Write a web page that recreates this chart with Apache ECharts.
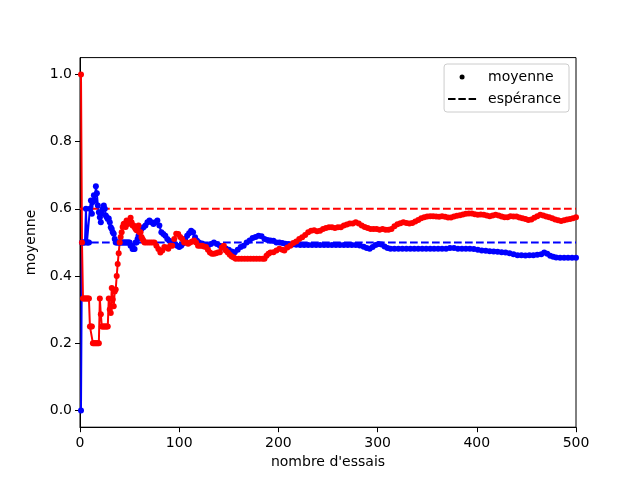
<!DOCTYPE html>
<html>
<head>
<meta charset="utf-8">
<script src="https://cdn.jsdelivr.net/npm/echarts@6/dist/echarts.min.js"></script>
<style>
  html, body { margin: 0; padding: 0; background: #fff; }
  #main { width: 640px; height: 480px; }
</style>
</head>
<body>
<div id="main"></div>
<script>
// valeurs : [nombre d'essais, moyenne]
const blueMean = [
  [1, 0.0], [2, 0.5], [3, 0.5], [4, 0.5], [5, 0.5], [6, 0.6], [7, 0.5], [8, 0.5], [9, 0.5], [10, 0.6],
  [11, 0.625], [12, 0.585], [13, 0.62], [14, 0.64], [15, 0.625], [16, 0.667], [17, 0.646], [18, 0.61], [19, 0.59], [20, 0.575],
  [21, 0.56], [22, 0.586], [23, 0.6], [24, 0.61], [25, 0.6], [26, 0.58], [27, 0.575], [28, 0.57], [29, 0.571], [30, 0.56],
  [31, 0.545], [32, 0.54], [33, 0.53], [34, 0.526], [35, 0.51], [36, 0.5], [37, 0.5], [38, 0.5], [39, 0.5], [40, 0.5],
  [41, 0.5], [42, 0.5], [43, 0.5], [44, 0.5], [45, 0.5], [46, 0.5], [47, 0.5], [48, 0.5], [49, 0.5], [50, 0.5],
  [51, 0.49], [52, 0.49], [53, 0.48], [54, 0.48], [55, 0.48], [56, 0.5], [57, 0.5], [58, 0.51], [59, 0.52], [60, 0.53],
  [62, 0.54], [64, 0.545], [66, 0.55], [68, 0.56], [70, 0.565], [72, 0.56], [74, 0.555], [76, 0.56], [78, 0.565], [80, 0.55],
  [82, 0.53], [84, 0.525], [86, 0.52], [88, 0.51], [90, 0.505], [92, 0.5], [94, 0.5], [96, 0.495], [98, 0.49], [100, 0.486],
  [102, 0.49], [104, 0.497], [106, 0.51], [108, 0.52], [110, 0.527], [112, 0.535], [114, 0.53], [116, 0.515], [118, 0.505], [120, 0.5],
  [123, 0.497], [126, 0.49], [129, 0.49], [132, 0.495], [135, 0.5], [138, 0.495], [141, 0.49], [144, 0.485], [147, 0.482], [150, 0.478],
  [153, 0.473], [156, 0.471], [159, 0.478], [162, 0.486], [165, 0.49], [168, 0.5], [171, 0.506], [174, 0.513], [177, 0.516], [180, 0.52],
  [183, 0.518], [186, 0.51], [189, 0.507], [192, 0.506], [195, 0.505], [198, 0.5], [201, 0.5], [204, 0.498], [207, 0.496], [210, 0.495],
  [214, 0.494], [218, 0.493], [222, 0.492], [226, 0.492], [230, 0.492], [234, 0.492], [238, 0.492], [242, 0.492], [246, 0.492], [250, 0.492],
  [254, 0.492], [258, 0.492], [262, 0.492], [266, 0.492], [270, 0.492], [274, 0.492], [278, 0.492], [282, 0.491], [286, 0.487], [289, 0.483],
  [292, 0.481], [295, 0.486], [298, 0.492], [301, 0.495], [304, 0.494], [307, 0.488], [310, 0.483], [313, 0.481], [317, 0.481], [321, 0.481],
  [325, 0.481], [329, 0.481], [333, 0.481], [337, 0.481], [341, 0.481], [345, 0.481], [349, 0.481], [353, 0.481], [357, 0.481], [361, 0.481],
  [365, 0.481], [369, 0.481], [373, 0.483], [377, 0.483], [381, 0.481], [385, 0.481], [389, 0.481], [393, 0.481], [397, 0.48], [401, 0.478],
  [405, 0.476], [409, 0.475], [413, 0.474], [417, 0.473], [421, 0.472], [425, 0.471], [429, 0.47], [433, 0.468], [437, 0.465], [441, 0.462],
  [445, 0.462], [449, 0.461], [453, 0.462], [457, 0.462], [461, 0.463], [465, 0.465], [468, 0.47], [471, 0.466], [474, 0.46], [477, 0.457],
  [480, 0.455], [484, 0.454], [488, 0.454], [492, 0.454], [496, 0.454], [500, 0.454]
]

const redMean = [
  [1, 1.0], [2, 0.5], [3, 0.333], [4, 0.333], [5, 0.333], [6, 0.333], [7, 0.333], [8, 0.333], [9, 0.333], [10, 0.25],
  [11, 0.25], [12, 0.25], [13, 0.2], [14, 0.2], [15, 0.2], [16, 0.2], [17, 0.2], [18, 0.2], [19, 0.2], [20, 0.333],
  [21, 0.286], [22, 0.25], [23, 0.25], [24, 0.25], [25, 0.25], [26, 0.25], [27, 0.25], [28, 0.25], [29, 0.333], [30, 0.3],
  [31, 0.29], [32, 0.364], [33, 0.33], [34, 0.31], [35, 0.354], [36, 0.36], [37, 0.4], [38, 0.436], [39, 0.468], [40, 0.5],
  [41, 0.516], [42, 0.53], [43, 0.546], [44, 0.555], [45, 0.556], [46, 0.546], [47, 0.565], [48, 0.555], [49, 0.556], [50, 0.565],
  [51, 0.573], [52, 0.56], [53, 0.55], [54, 0.55], [55, 0.545], [56, 0.54], [57, 0.536], [58, 0.54], [59, 0.55], [60, 0.53],
  [61, 0.53], [62, 0.516], [63, 0.51], [64, 0.505], [65, 0.5], [67, 0.5], [69, 0.5], [71, 0.5], [73, 0.5], [75, 0.5],
  [77, 0.49], [79, 0.48], [81, 0.47], [83, 0.476], [85, 0.486], [87, 0.485], [89, 0.481], [91, 0.49], [93, 0.49], [95, 0.51],
  [97, 0.526], [99, 0.525], [101, 0.516], [103, 0.51], [105, 0.5], [107, 0.5], [109, 0.496], [111, 0.5], [113, 0.503], [115, 0.506],
  [117, 0.5], [119, 0.49], [121, 0.49], [123, 0.49], [125, 0.488], [127, 0.486], [129, 0.478], [131, 0.47], [133, 0.466], [135, 0.466],
  [137, 0.468], [139, 0.47], [141, 0.471], [143, 0.485], [145, 0.49], [147, 0.476], [149, 0.47], [151, 0.463], [153, 0.458], [155, 0.455],
  [157, 0.451], [160, 0.451], [163, 0.451], [166, 0.451], [169, 0.451], [172, 0.451], [175, 0.451], [178, 0.451], [181, 0.451], [184, 0.451],
  [186, 0.451], [188, 0.46], [190, 0.466], [192, 0.47], [195, 0.471], [198, 0.476], [201, 0.481], [204, 0.478], [206, 0.476], [209, 0.485],
  [212, 0.49], [215, 0.498], [218, 0.503], [221, 0.51], [224, 0.515], [227, 0.522], [230, 0.53], [233, 0.535], [236, 0.536], [239, 0.533],
  [242, 0.535], [245, 0.54], [248, 0.543], [251, 0.545], [254, 0.545], [257, 0.543], [260, 0.545], [263, 0.545], [266, 0.55], [269, 0.553],
  [272, 0.556], [275, 0.556], [278, 0.56], [281, 0.556], [284, 0.55], [287, 0.546], [290, 0.543], [293, 0.54], [296, 0.54], [299, 0.54],
  [302, 0.538], [305, 0.54], [308, 0.538], [311, 0.538], [314, 0.54], [317, 0.548], [320, 0.554], [323, 0.557], [326, 0.56], [329, 0.558],
  [332, 0.556], [335, 0.558], [338, 0.562], [341, 0.567], [344, 0.572], [347, 0.575], [350, 0.577], [353, 0.578], [356, 0.578], [359, 0.577],
  [362, 0.576], [365, 0.578], [368, 0.576], [371, 0.574], [374, 0.574], [377, 0.577], [380, 0.579], [383, 0.581], [386, 0.583], [389, 0.585],
  [392, 0.586], [395, 0.586], [398, 0.584], [401, 0.582], [404, 0.583], [407, 0.582], [410, 0.58], [413, 0.578], [416, 0.58], [419, 0.582],
  [422, 0.58], [425, 0.577], [428, 0.575], [431, 0.575], [434, 0.578], [437, 0.577], [440, 0.577], [443, 0.574], [446, 0.572], [449, 0.57],
  [452, 0.567], [455, 0.568], [458, 0.573], [461, 0.578], [464, 0.582], [467, 0.58], [470, 0.577], [473, 0.575], [476, 0.572], [479, 0.568],
  [482, 0.566], [485, 0.564], [488, 0.566], [491, 0.568], [494, 0.57], [497, 0.572], [500, 0.575]
]

// espérances (bleu, rouge) et bornes de l'axe des essais
const expectations = [0.5, 0.6]
const trialRange = [0, 500]
const yTicks = [0.0, 0.2, 0.4, 0.6, 0.8, 1.0]

const font = 'DejaVu Sans'
const blue = '#0000ff'
const red = '#ff0000'

function meanSeries (data, color) {
  return {
    name: 'moyenne',
    type: 'line',
    data: data,
    symbol: 'circle',
    symbolSize: 6,
    showAllSymbol: true,
    color: color,
    itemStyle: { color: color, borderWidth: 0 },
    lineStyle: { color: color, width: 2 },
    emphasis: { disabled: true }
  }
}

function expectSeries (p, color) {
  return {
    name: 'espérance',
    type: 'line',
    data: trialRange.map(x => [x, p]),
    symbol: 'none',
    color: color,
    itemStyle: { color: color },
    lineStyle: { color: color, width: 2, type: [7.7, 3.3] },
    emphasis: { disabled: true }
  }
}

const chart = echarts.init(document.getElementById('main'))
chart.setOption({
  animation: false,
  grid: {
    left: 80,
    right: 64,
    top: 57.6,
    bottom: 52.8,
    show: true,
    borderColor: '#000',
    borderWidth: 1
  },
  legend: {
    orient: 'vertical',
    right: 71,
    top: 64,
    itemWidth: 28,
    itemHeight: 5,
    itemGap: 6,
    symbolKeepAspect: true,
    selectedMode: false,
    padding: [5, 8, 5, 4],
    borderColor: '#cccccc',
    borderWidth: 1,
    borderRadius: 3,
    backgroundColor: 'rgba(255,255,255,0.8)',
    textStyle: { fontFamily: font, fontSize: 14, color: '#000', lineHeight: 16, padding: [0, 0, 0, 7] },
    data: [
      { name: 'moyenne', icon: 'circle', itemStyle: { color: '#000' } },
      { name: 'espérance', icon: 'path://M0,0h8v2h-8zM11,0h8v2h-8zM22,0h8v2h-8z', itemStyle: { color: '#000' } }
    ]
  },
  xAxis: {
    type: 'value',
    min: trialRange[0],
    max: trialRange[1],
    interval: 100,
    name: "nombre d'essais",
    nameLocation: 'middle',
    nameGap: 28,
    nameTextStyle: { fontFamily: font, fontSize: 14, color: '#000' },
    axisLine: { show: true, onZero: false, lineStyle: { color: '#000', width: 1 } },
    axisTick: { show: true, length: 5, lineStyle: { color: '#000', width: 1 } },
    axisLabel: { margin: 9, fontFamily: font, fontSize: 14, color: '#000' },
    splitLine: { show: false }
  },
  yAxis: {
    type: 'value',
    min: -0.05,
    max: 1.05,
    name: 'moyenne',
    nameLocation: 'middle',
    nameGap: 42,
    nameTextStyle: { fontFamily: font, fontSize: 14, color: '#000' },
    axisLine: { show: true, onZero: false, lineStyle: { color: '#000', width: 1 } },
    axisTick: { show: true, length: 5, customValues: yTicks, lineStyle: { color: '#000', width: 1 } },
    axisLabel: {
      margin: 8,
      customValues: yTicks,
      formatter: v => v.toFixed(1),
      fontFamily: font,
      fontSize: 14,
      color: '#000'
    },
    splitLine: { show: false }
  },
  series: [
    meanSeries(blueMean, blue),
    expectSeries(expectations[0], blue),
    meanSeries(redMean, red),
    expectSeries(expectations[1], red)
  ]
})
</script>
</body>
</html>
